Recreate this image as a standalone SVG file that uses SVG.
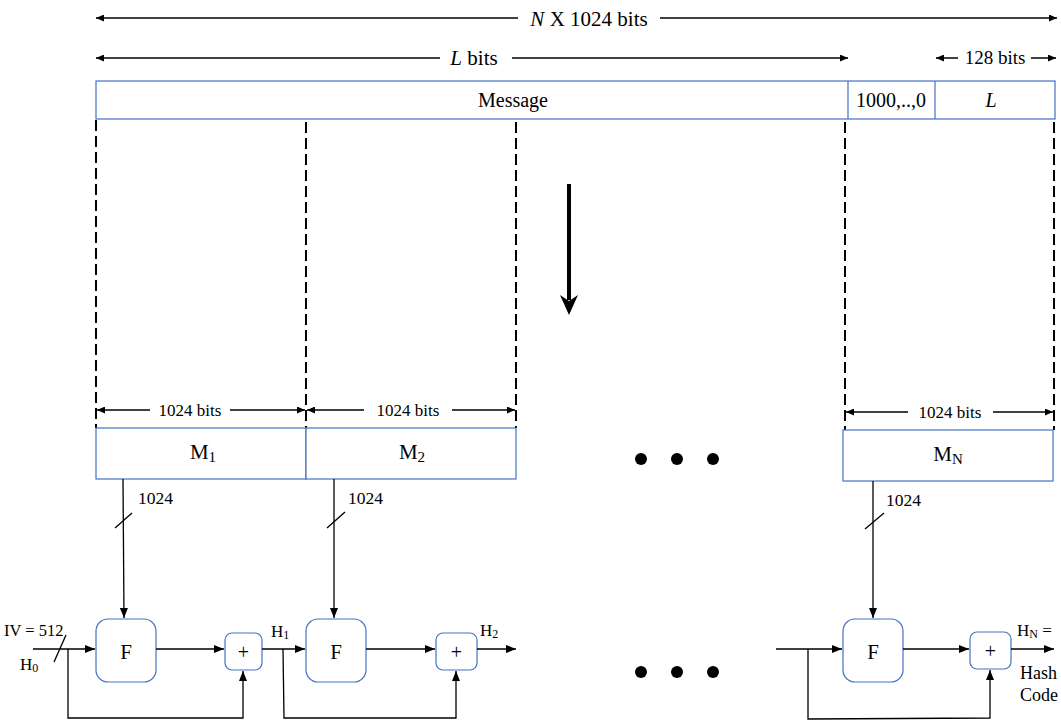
<svg xmlns="http://www.w3.org/2000/svg" width="1061" height="722" viewBox="0 0 1061 722">
<style>
.t{font-family:"Liberation Serif","Times New Roman",serif;fill:#000}
.ln{stroke:#000;stroke-width:1.3;fill:none}
.dim{stroke:#000;stroke-width:1.5;fill:none}
.bx{fill:#fff;stroke:#4472C4;stroke-width:1.2}
.dash{stroke:#000;stroke-width:2;stroke-dasharray:11 5;fill:none}
</style>
<defs>
<marker id="ah" markerUnits="userSpaceOnUse" markerWidth="10" markerHeight="8" refX="10" refY="4" orient="auto-start-reverse"><path d="M0,0 L10,4 L0,8 z" fill="#000"/></marker>
<marker id="as" markerUnits="userSpaceOnUse" markerWidth="8" markerHeight="7" refX="8" refY="3.5" orient="auto-start-reverse"><path d="M0,0 L8,3.5 L0,7 z" fill="#000"/></marker>
</defs>
<rect width="1061" height="722" fill="#fff"/>

<g id="dimensions">
<line class="dim" x1="96" y1="18" x2="518" y2="18" marker-start="url(#as)"/>
<line class="dim" x1="660" y1="18" x2="1057" y2="18" marker-end="url(#as)"/>
<text class="t" x="589" y="26" font-size="21" text-anchor="middle"><tspan font-style="italic">N</tspan>  X 1024 bits</text>
<line class="dim" x1="96" y1="58" x2="440" y2="58" marker-start="url(#as)"/>
<line class="dim" x1="512" y1="58" x2="848" y2="58" marker-end="url(#as)"/>
<text class="t" x="474" y="65" font-size="21" text-anchor="middle"><tspan font-style="italic">L</tspan> bits</text>
<line class="dim" x1="936" y1="58" x2="958" y2="58" marker-start="url(#as)"/>
<line class="dim" x1="1031" y1="58" x2="1056" y2="58" marker-end="url(#as)"/>
<text class="t" x="995" y="64" font-size="19" text-anchor="middle">128 bits</text>
</g>

<g id="message">
<rect class="bx" x="96" y="81" width="959" height="38"/>
<line class="bx" x1="848" y1="81" x2="848" y2="119"/>
<line class="bx" x1="935" y1="81" x2="935" y2="119"/>
<text class="t" x="513" y="107" font-size="20" text-anchor="middle">Message</text>
<text class="t" x="891" y="107" font-size="20" text-anchor="middle">1000,..,0</text>
<text class="t" x="991" y="107" font-size="20" text-anchor="middle" font-style="italic">L</text>
</g>

<g id="dashes">
<line class="dash" x1="96" y1="120" x2="96" y2="428"/>
<line class="dash" x1="306" y1="122" x2="306" y2="428"/>
<line class="dash" x1="516" y1="122" x2="516" y2="428"/>
<line class="dash" x1="845" y1="122" x2="845" y2="430"/>
<line class="dash" x1="1054" y1="122" x2="1054" y2="430"/>
</g>

<g id="big-arrow">
<line x1="569" y1="184" x2="569" y2="300" stroke="#000" stroke-width="4"/>
<path d="M560,295 L569,315 L578,295 L569,301 z" fill="#000"/>
</g>

<g id="block-dims">
<line class="dim" x1="97" y1="410" x2="150" y2="410" marker-start="url(#as)"/>
<line class="dim" x1="230" y1="410" x2="305" y2="410" marker-end="url(#as)"/>
<text class="t" x="190" y="416" font-size="17" text-anchor="middle">1024 bits</text>
<line class="dim" x1="307" y1="410" x2="364" y2="410" marker-start="url(#as)"/>
<line class="dim" x1="452" y1="410" x2="515" y2="410" marker-end="url(#as)"/>
<text class="t" x="408" y="416" font-size="17" text-anchor="middle">1024 bits</text>
<line class="dim" x1="846" y1="412" x2="908" y2="412" marker-start="url(#as)"/>
<line class="dim" x1="993" y1="412" x2="1053" y2="412" marker-end="url(#as)"/>
<text class="t" x="950" y="418" font-size="17" text-anchor="middle">1024 bits</text>
</g>

<g id="M1"><rect class="bx" x="96" y="428" width="210" height="51"/><text class="t" x="203" y="459" font-size="21" text-anchor="middle">M<tspan font-size="15" dy="3">1</tspan></text></g>
<g id="M2"><rect class="bx" x="306" y="428" width="210" height="51"/><text class="t" x="412" y="459" font-size="21" text-anchor="middle">M<tspan font-size="15" dy="3">2</tspan></text></g>
<g id="MN"><rect class="bx" x="843" y="430" width="210" height="51"/><text class="t" x="948" y="461" font-size="21" text-anchor="middle">M<tspan font-size="15" dy="3">N</tspan></text></g>

<g id="dots">
<circle cx="641" cy="459" r="6"/><circle cx="677" cy="459" r="6"/><circle cx="713" cy="459" r="6"/>
<circle cx="641" cy="672" r="6"/><circle cx="677" cy="672" r="6"/><circle cx="713" cy="672" r="6"/>
</g>

<g id="F1"><rect class="bx" x="96" y="619" width="60" height="63" rx="12"/><text class="t" x="126" y="659" font-size="21" text-anchor="middle">F</text></g>
<g id="F2"><rect class="bx" x="306" y="619" width="60" height="63" rx="12"/><text class="t" x="336" y="659" font-size="21" text-anchor="middle">F</text></g>
<g id="FN"><rect class="bx" x="843" y="619" width="60" height="63" rx="12"/><text class="t" x="873" y="659" font-size="21" text-anchor="middle">F</text></g>
<g id="P1"><rect class="bx" x="225" y="633" width="37" height="37" rx="7"/><text class="t" x="243.5" y="659" font-size="20" text-anchor="middle">+</text></g>
<g id="P2"><rect class="bx" x="436" y="633" width="41" height="37" rx="7"/><text class="t" x="456.5" y="659" font-size="20" text-anchor="middle">+</text></g>
<g id="PN"><rect class="bx" x="970" y="632" width="41" height="37" rx="7"/><text class="t" x="990.5" y="658" font-size="20" text-anchor="middle">+</text></g>

<g id="labels">
<text class="t" x="138" y="504" font-size="17.5">1024</text>
<text class="t" x="348" y="504" font-size="17.5">1024</text>
<text class="t" x="886" y="506" font-size="17.5">1024</text>
<text class="t" x="4" y="636" font-size="16.5">IV = 512</text>
<text class="t" x="20" y="670" font-size="17">H<tspan font-size="12" dy="2">0</tspan></text>
<text class="t" x="271" y="637" font-size="17">H<tspan font-size="12" dy="2">1</tspan></text>
<text class="t" x="480" y="636" font-size="17">H<tspan font-size="12" dy="2">2</tspan></text>
<text class="t" x="1017" y="636" font-size="17">H<tspan font-size="12" dy="2">N</tspan><tspan dy="-2"> =</tspan></text>
<text class="t" x="1020" y="679" font-size="18">Hash</text>
<text class="t" x="1020" y="701" font-size="18">Code</text>
</g>

<g id="connectors">
<line class="ln" x1="123" y1="479" x2="124" y2="618" marker-end="url(#ah)"/>
<line class="ln" x1="115" y1="528" x2="132" y2="513"/>
<line class="ln" x1="334" y1="479" x2="334" y2="618" marker-end="url(#ah)"/>
<line class="ln" x1="327" y1="528" x2="345" y2="512"/>
<line class="ln" x1="873" y1="481" x2="873" y2="618" marker-end="url(#ah)"/>
<line class="ln" x1="865" y1="529" x2="884" y2="513"/>

<line class="ln" x1="33" y1="649" x2="95" y2="649" marker-end="url(#ah)"/>
<line class="ln" x1="54" y1="662" x2="66" y2="635"/>
<polyline class="ln" points="68,649 68,718 243,718 243,671" marker-end="url(#ah)"/>
<line class="ln" x1="156" y1="649" x2="224" y2="649" marker-end="url(#ah)"/>
<line class="ln" x1="262" y1="649" x2="305" y2="649" marker-end="url(#ah)"/>
<polyline class="ln" points="283,649 284,718 456,718 456,671" marker-end="url(#ah)"/>
<line class="ln" x1="366" y1="649" x2="435" y2="649" marker-end="url(#ah)"/>
<line class="ln" x1="477" y1="649" x2="516" y2="649" marker-end="url(#ah)"/>

<line class="ln" x1="776" y1="649" x2="842" y2="649" marker-end="url(#ah)"/>
<polyline class="ln" points="808,649 808,719 990,718 990,670" marker-end="url(#ah)"/>
<line class="ln" x1="903" y1="649" x2="969" y2="649" marker-end="url(#ah)"/>
<line class="ln" x1="1011" y1="649" x2="1054" y2="649" marker-end="url(#ah)"/>
</g>
</svg>
